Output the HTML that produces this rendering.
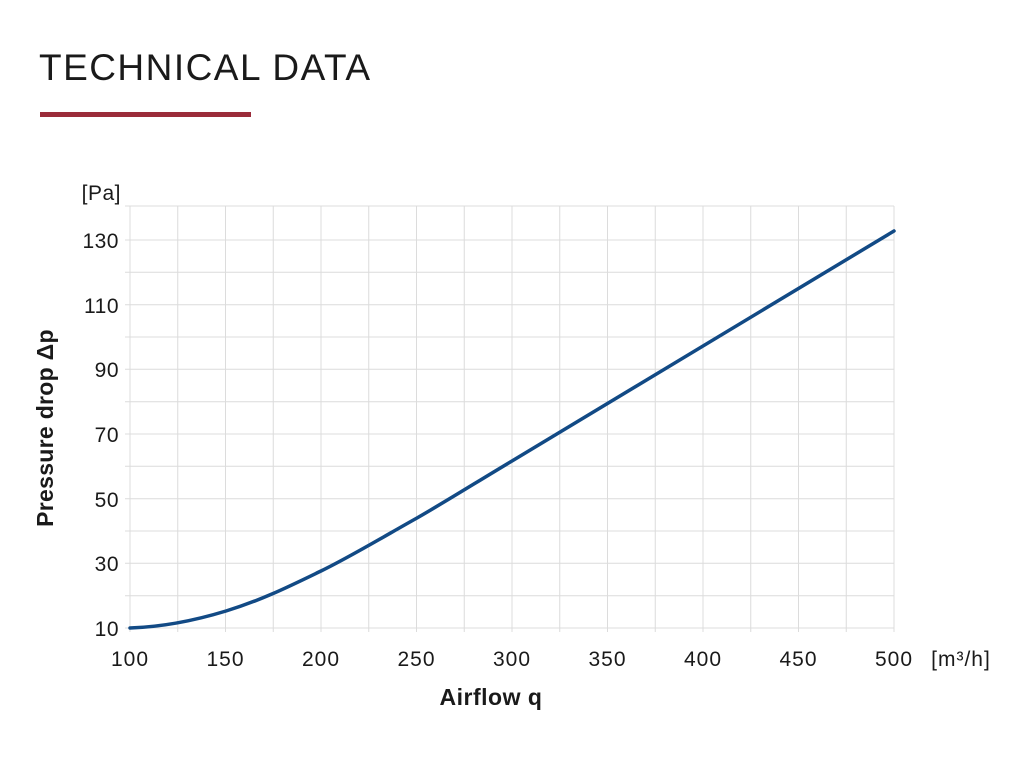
<!DOCTYPE html>
<html><head><meta charset="utf-8"><style>
body{margin:0;background:#fff;width:1024px;height:768px;overflow:hidden;font-family:"Liberation Sans",sans-serif}
</style></head><body>
<svg width="1024" height="768" xmlns="http://www.w3.org/2000/svg" font-family="Liberation Sans, sans-serif">
<text x="39" y="80" font-size="37" fill="#1a1a1a" textLength="331" lengthAdjust="spacing">TECHNICAL DATA</text>
<rect x="40" y="112" width="211" height="5" fill="#9b2c3a"/>
<g stroke="#dcdcdc" stroke-width="1">
<line x1="125" y1="206" x2="894" y2="206"/>
<line x1="125" y1="240" x2="894" y2="240"/>
<line x1="125" y1="272.3" x2="894" y2="272.3"/>
<line x1="125" y1="304.7" x2="894" y2="304.7"/>
<line x1="125" y1="337" x2="894" y2="337"/>
<line x1="125" y1="369.3" x2="894" y2="369.3"/>
<line x1="125" y1="401.7" x2="894" y2="401.7"/>
<line x1="125" y1="434" x2="894" y2="434"/>
<line x1="125" y1="466.3" x2="894" y2="466.3"/>
<line x1="125" y1="498.7" x2="894" y2="498.7"/>
<line x1="125" y1="531" x2="894" y2="531"/>
<line x1="125" y1="563.3" x2="894" y2="563.3"/>
<line x1="125" y1="595.7" x2="894" y2="595.7"/>
<line x1="125" y1="628" x2="894" y2="628"/>
<line x1="130" y1="206" x2="130" y2="632"/>
<line x1="177.75" y1="206" x2="177.75" y2="632"/>
<line x1="225.5" y1="206" x2="225.5" y2="632"/>
<line x1="273.25" y1="206" x2="273.25" y2="632"/>
<line x1="321" y1="206" x2="321" y2="632"/>
<line x1="368.75" y1="206" x2="368.75" y2="632"/>
<line x1="416.5" y1="206" x2="416.5" y2="632"/>
<line x1="464.25" y1="206" x2="464.25" y2="632"/>
<line x1="512" y1="206" x2="512" y2="632"/>
<line x1="559.75" y1="206" x2="559.75" y2="632"/>
<line x1="607.5" y1="206" x2="607.5" y2="632"/>
<line x1="655.25" y1="206" x2="655.25" y2="632"/>
<line x1="703" y1="206" x2="703" y2="632"/>
<line x1="750.75" y1="206" x2="750.75" y2="632"/>
<line x1="798.5" y1="206" x2="798.5" y2="632"/>
<line x1="846.25" y1="206" x2="846.25" y2="632"/>
<line x1="894" y1="206" x2="894" y2="632"/>
</g>
<path d="M130,628 C160,627 190,622 226,611 S290,586 321,571 C350,557 390,533 417,518 C450,499 480,480 512,461 L894,231" fill="none" stroke="#124a85" stroke-width="3.5" stroke-linecap="round"/>
<g font-size="21" fill="#1a1a1a" text-anchor="end" letter-spacing="0.5">
<text x="119" y="248">130</text>
<text x="119" y="313">110</text>
<text x="119" y="377">90</text>
<text x="119" y="442">70</text>
<text x="119" y="507">50</text>
<text x="119" y="571">30</text>
<text x="119" y="636">10</text>
<text x="121" y="200">[Pa]</text>
</g>
<g font-size="21" fill="#1a1a1a" text-anchor="middle" letter-spacing="1">
<text x="130" y="666">100</text>
<text x="225.5" y="666">150</text>
<text x="321" y="666">200</text>
<text x="416.5" y="666">250</text>
<text x="512" y="666">300</text>
<text x="607.5" y="666">350</text>
<text x="703" y="666">400</text>
<text x="798.5" y="666">450</text>
<text x="894" y="666">500</text>
<text x="961" y="666">[m³/h]</text>
</g>
<text x="491" y="705" font-size="23" font-weight="bold" fill="#1a1a1a" text-anchor="middle" letter-spacing="0.5">Airflow q</text>
<text transform="translate(53,428) rotate(-90)" font-size="23" font-weight="bold" fill="#1a1a1a" text-anchor="middle" letter-spacing="0.3">Pressure drop Δp</text>
</svg>
</body></html>
